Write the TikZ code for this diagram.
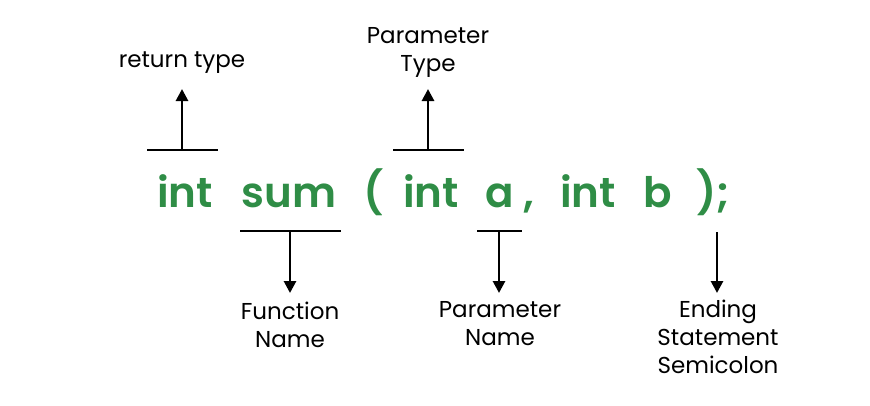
\documentclass[tikz,border=0pt]{standalone}
\usepackage{fontspec}
\setmainfont{Poppins}
\newfontfamily\codefont{Poppins SemiBold}
\usetikzlibrary{arrows.meta,positioning}
\definecolor{gfggreen}{HTML}{2F8D46}
\tikzstyle{codetok} = [text=gfggreen, inner sep=0pt, anchor=base, font=\fontsize{42}{48}\codefont]
\tikzstyle{tag} = [inner sep=0pt, anchor=base, align=center, font=\fontsize{23}{28}\selectfont]
\tikzstyle{bar} = [line width=2.8pt]
\tikzstyle{pointer} = [line width=2.8pt, -{Triangle[length=12pt,width=12pt]}]

\begin{document}
\begin{tikzpicture}[x=1pt, y=-1pt]
				\useasboundingbox (0,0) rectangle (870,405);
				% the declaration
				\node[codetok] (rettype) at (185,207) {int};
				\node[codetok] (fname) at (289,207) {sum};
				\node[codetok] (lparen) at (374,207) {(};
				\node[codetok] (ptypea) at (431,207) {int};
				\node[codetok] (pnamea) at (500,207) {a};
				\node[codetok] (comma) at (529,207) {,};
				\node[codetok] (ptypeb) at (588,207) {int};
				\node[codetok] (pnameb) at (658,207) {b};
				\node[codetok] (ending) at (713,207) {);};
				% labels (base = last line)
				\node[tag] (lblret) at (182,67) {return type};
				\node[tag] (lblptype) at (428,71) {Parameter\\Type};
				\node[tag] (lblfname) at (290,347) {Function\\Name};
				\node[tag] (lblpname) at (500,345) {Parameter\\Name};
				\node[tag] (lblend) at (718,373) {Ending\\Statement\\Semicolon};
				% bars and arrows
				\coordinate (topret) at (182,150);
				\coordinate (topptype) at (428,150);
				\coordinate (botfname) at (290,231);
				\coordinate (botpname) at (499,231);
				\coordinate (botend) at (717,232);
				\draw[bar] (147,150) -- (218,150);
				\draw[bar] (393,150) -- (464,150);
				\draw[bar] (240,231) -- (341,231);
				\draw[bar] (477,231) -- (522,231);
				\draw[pointer] (topret) -- (182,89);
				\draw[pointer] (topptype) -- (428,89);
				\draw[pointer] (botfname) -- (290,293);
				\draw[pointer] (botpname) -- (499,293);
				\draw[pointer] (botend) -- (717,293);
			\end{tikzpicture}
\end{document}
